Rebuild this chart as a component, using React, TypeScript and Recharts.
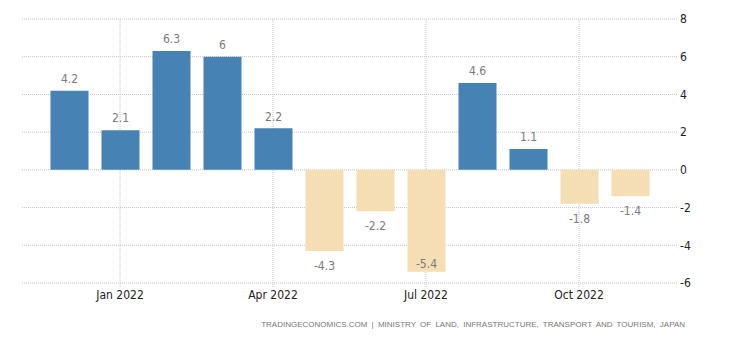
import { BarChart, Bar, XAxis, YAxis, CartesianGrid, ReferenceLine, LabelList, Cell } from 'recharts';

const months = [
  'Dec 2021', 'Jan 2022', 'Feb 2022', 'Mar 2022', 'Apr 2022', 'May 2022',
  'Jun 2022', 'Jul 2022', 'Aug 2022', 'Sep 2022', 'Oct 2022', 'Nov 2022',
];
const values = [4.2, 2.1, 6.3, 6, 2.2, -4.3, -2.2, -5.4, 4.6, 1.1, -1.8, -1.4];
const xTicks = ['Jan 2022', 'Apr 2022', 'Jul 2022', 'Oct 2022'];
const yTicks = [-6, -4, -2, 0, 2, 4, 6, 8];

const data = months.map((month, i) => ({ month, value: values[i] }));

const FONT = '"DejaVu Sans Condensed", "DejaVu Sans", sans-serif';
const POS = '#4682b4';
const NEG = '#f5deb3';
const GRID = '#c4c4c4';
const PLOT_BOTTOM = 275;

function renderLabel(props: any) {
  const vb = props.viewBox || {};
  const x = props.x ?? vb.x;
  const y = props.y ?? vb.y;
  const width = props.width ?? vb.width;
  const height = props.height ?? vb.height;
  const value = Number(props.value);
  const top = Math.min(y, y + height);
  const bottom = Math.max(y, y + height);
  let cy = top - 12;
  if (value < 0) {
    cy = bottom + 14.5;
    if (cy + 6 > PLOT_BOTTOM) cy = bottom - 7.5;
  }
  return (
    <text x={x + width / 2} y={cy} dy="0.35em" textAnchor="middle" fill="#7a7a7a" fontSize={12} fontFamily={FONT}>
      {props.value}
    </text>
  );
}

export default function App() {
  return (
    <div style={{ position: 'relative', width: 722, height: 324 }}>
      <BarChart width={722} height={300} data={data} margin={{ top: 11, right: 13, left: 14, bottom: 5 }}>
        <CartesianGrid vertical={false} stroke={GRID} strokeDasharray="1 1" />
        {xTicks.map((t) => (
          <ReferenceLine key={t} x={t} stroke={GRID} strokeDasharray="1 1" zIndex={-90} />
        ))}
        <XAxis
          dataKey="month"
          ticks={xTicks}
          interval={0}
          padding={{ left: 21.5, right: 21.5 }}
          axisLine={false}
          tickLine={{ stroke: GRID, strokeDasharray: '1 1' }}
          tickSize={4}
          tickMargin={3}
          height={20}
          tick={{ fill: '#222', fontSize: 12, fontFamily: FONT }}
        />
        <YAxis
          orientation="right"
          domain={[-6, 8]}
          ticks={yTicks}
          interval={0}
          axisLine={false}
          tickLine={false}
          tickSize={0}
          tickMargin={3}
          width={40}
          tick={{ fill: '#222', fontSize: 12, fontFamily: FONT, textAnchor: 'start' }}
        />
        <Bar dataKey="value" barSize={38} isAnimationActive={false}>
          {data.map((d, i) => (
            <Cell key={`cell-${i}`} fill={d.value >= 0 ? POS : NEG} />
          ))}
          <LabelList dataKey="value" content={renderLabel} />
        </Bar>
      </BarChart>
      <div
        style={{
          position: 'absolute',
          top: 312,
          right: 45,
          fontFamily: '"Liberation Sans", sans-serif',
          fontSize: 8,
          lineHeight: '10px',
          color: '#777',
          whiteSpace: 'pre',
          wordSpacing: 2,
        }}
      >
        TRADINGECONOMICS.COM | MINISTRY OF LAND, INFRASTRUCTURE, TRANSPORT AND TOURISM, JAPAN
      </div>
    </div>
  );
}
